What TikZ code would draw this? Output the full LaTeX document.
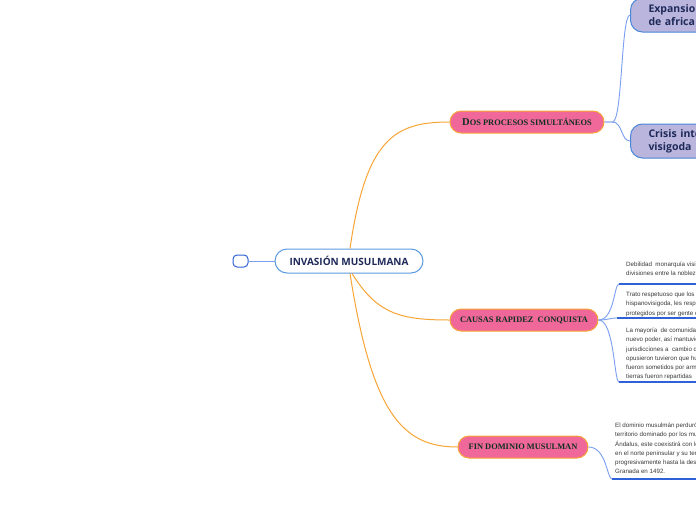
\documentclass[tikz,border=0pt]{standalone}
\usepackage{fontspec}
\setmainfont{Liberation Sans}
\newfontfamily\osans{Open Sans}
\newfontfamily\tserif{Liberation Serif}
\definecolor{orangeL}{HTML}{F7A536}
\definecolor{pinkF}{HTML}{F0679A}
\definecolor{cblue}{HTML}{5B9BE0}
\definecolor{lblue}{HTML}{7A9EF0}
\definecolor{ublue}{HTML}{2F62D6}
\definecolor{lavF}{HTML}{B9B5DC}
\definecolor{lavB}{HTML}{4A86D8}
\definecolor{navyT}{HTML}{1F2A5A}
\definecolor{greenT}{HTML}{10301F}
\definecolor{grayT}{HTML}{3A3A3A}
\newcommand\pinksc[2]{{\fontsize{10.5}{10}\selectfont #1}{\fontsize{8.4}{10}\selectfont #2}}
\begin{document}
\begin{tikzpicture}[x=1pt,y=-1pt,
  central/.style={draw=cblue, line width=1pt, fill=white, rounded corners=12pt,
    minimum width=148pt, minimum height=24pt, inner sep=0pt,
    font=\osans\bfseries\fontsize{10}{12}\selectfont, text=navyT},
  smallbox/.style={draw=ublue, line width=1pt, fill=white, rounded corners=4pt,
    minimum width=15pt, minimum height=12pt, inner sep=0pt},
  pinkbox/.style={draw=orangeL, line width=1pt, fill=pinkF, rounded corners=11pt,
    minimum height=22pt, inner sep=0pt, font=\tserif\bfseries, text=greenT},
  lav/.style={draw=lavB, line width=1pt, fill=lavF, rounded corners=12pt,
    minimum height=34pt, inner xsep=18pt, inner ysep=0pt,
    align=left, anchor=west, text width=160pt,
    font=\osans\bfseries\fontsize{10.5}{13}\selectfont, text=navyT},
  para/.style={anchor=north west, inner sep=0pt, align=left,
    font=\fontsize{6.2}{9.2}\selectfont, text=grayT},
  oline/.style={draw=orangeL, line width=1pt},
  bline/.style={draw=lblue, line width=0.9pt},
  uline/.style={draw=ublue, line width=1.3pt}]
\useasboundingbox (0,0) rectangle (696,520);
\clip (0,0) rectangle (696,520);
\fill[white] (0,0) rectangle (696,520);

% central and small node
\node[central] (inv) at (349,261) {INVASIÓN MUSULMANA};
\node[smallbox] (lft) at (240.5,261) {};

% pink nodes
\node[pinkbox, minimum width=154pt] (dos) at (527,122) {\pinksc{D}{OS PROCESOS SIMULTÁNEOS}};
\node[pinkbox, minimum width=148pt] (causas) at (524,320) {\pinksc{}{CAUSAS RAPIDEZ\ \ CONQUISTA}};
\node[pinkbox, minimum width=130pt] (fin) at (523,447) {\pinksc{}{FIN DOMINIO MUSULMAN}};

% lavender nodes
\node[lav] (exp) at (630,15) {Expansion musulmana\\de africa del norte};
\node[lav] (cri) at (630,141) {Crisis interna\\visigoda};

% text paragraphs
\node[para] (p1) at (626,262) {Debilidad\ \ monarquía visigoda y\\divisiones entre la nobleza visigoda};
\node[para] (p2) at (626,292) {Trato respetuoso que los musulmanes dieron a la\\hispanovisigoda, les respetaron sus creencias\\protegidos por ser gente del libro};
\node[para] (p3) at (626,328) {La mayoría\ \ de comunidades aceptaron el\\nuevo poder, así mantuvieron sus\\jurisdicciones a\ \ cambio de tributos, los que se\\opusieron tuvieron que huir o\\fueron sometidos por armas y sus\\tierras fueron repartidas};
\node[para] (p4) at (615,423) {El dominio musulmán perduró en el\\territorio dominado por los musulmanes, al-\\Ándalus, este coexistirá con los reinos\\en el norte peninsular y su territorio\\progresivamente hasta la desaparición\\Granada en 1492.};

\coordinate (u1) at (619,284);
\coordinate (u2) at (617,318);
\coordinate (u3) at (619,382);
\coordinate (u4) at (612,479);

% connectors
\draw[bline] (lft) -- (inv);
\draw[oline] ([xshift=1pt]inv.north) .. controls +(16,-110) and +(-55,0) .. (dos.west);
\draw[oline] ([xshift=3pt]inv.south) .. controls +(25,40) and +(-50,0) .. (causas.west);
\draw[oline] ([xshift=1pt]inv.south) .. controls +(22,140) and +(-55,0) .. (fin.west);

\draw[bline] (dos.east) -- +(8,0) .. controls +(10,0) and +(-9,0) .. (exp.west);
\draw[bline] (dos.east) -- +(8,0) .. controls +(10,0) and +(-9,0) .. (cri.west);

\draw[bline] (causas.east) .. controls +(16,0) and +(-5,0) .. (u1);
\draw[bline] (causas.east) .. controls +(10,0) and +(-8,0) .. (u2);
\draw[bline] (causas.east) .. controls +(16,0) and +(-5,0) .. (u3);
\draw[bline] (fin.east) .. controls +(18,0) and +(-5,0) .. (u4);

\draw[uline] (u1) -- (u1 -| 700,0);
\draw[uline] (u2) -- (u2 -| 700,0);
\draw[uline] (u3) -- (u3 -| 700,0);
\draw[uline] (u4) -- (u4 -| 700,0);
\end{tikzpicture}
\end{document}
